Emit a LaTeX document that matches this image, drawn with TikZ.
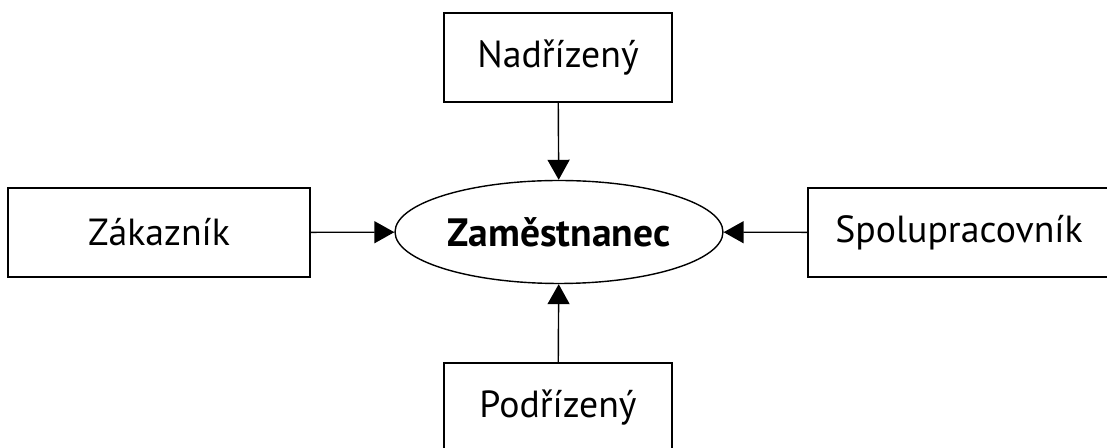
\documentclass[tikz,border=0pt]{standalone}
\usepackage{fontspec}
\setmainfont{PT Sans}
\usetikzlibrary{arrows.meta}
\usetikzlibrary{shapes.geometric}

\begin{document}
\begin{tikzpicture}[x=0.02cm, y=-0.02cm,
        box/.style={draw, line width=0.8pt, minimum width=4.56cm, minimum height=1.78cm, font=\fontsize{21.5}{24}\selectfont},
        widebox/.style={box, minimum width=6.04cm},
        role/.style={draw, ellipse, line width=0.8pt, inner sep=0pt, minimum width=6.56cm, minimum height=2.06cm, font=\bfseries\fontsize{22.5}{25}\selectfont},
        link/.style={-{Triangle[length=0.4cm, width=0.44cm]}, line width=0.8pt}]
    \useasboundingbox (0,0) rectangle (1107,448);
    \node[role] (emp) at (559,232) {Zaměstnanec};
    \node[box] (boss) at (558,57.5) {Nadřízený};
    \node[box] (sub) at (558,407.5) {Podřízený};
    \node[widebox] (cust) at (159,232.5) {Zákazník};
    \node[widebox] (coll) at (959,232.5) {Spolupracovník};
    \draw[link] (boss) -- (emp);
    \draw[link] (sub) -- (emp);
    \draw[link] (cust) -- (emp);
    \draw[link] (coll) -- (emp);
\end{tikzpicture}
\end{document}
